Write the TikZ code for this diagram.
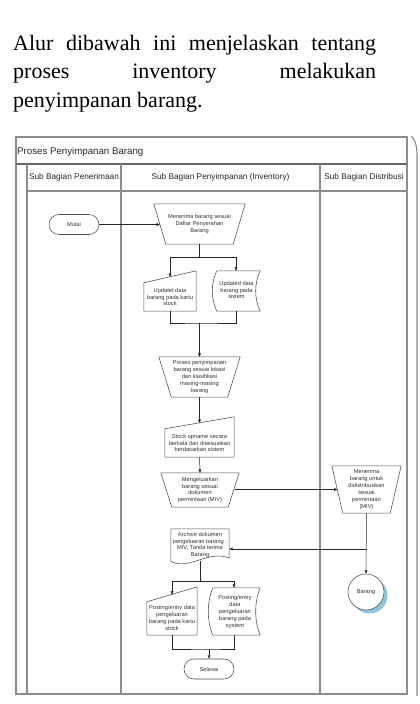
\documentclass[tikz,border=0pt]{standalone}
\usepackage{fontspec}
\setmainfont{Liberation Serif}
\newfontfamily\diagfont{Liberation Sans}
\usetikzlibrary{arrows.meta,calc}
\definecolor{framegray}{RGB}{140,140,140}
\definecolor{shadowblue}{RGB}{140,200,218}
\begin{document}
\begin{tikzpicture}[x=1pt,y=-1pt,
  frame/.style={draw=framegray,line width=1.1pt},
  shp/.style={draw=black!70,line width=0.55pt},
  conn/.style={draw=black!85,line width=0.5pt},
  arr/.style={conn,-{Triangle[length=3.4pt,width=2.8pt]}},
  txt/.style={font=\diagfont\fontsize{5.7}{6.9}\selectfont,text=black!80,align=center,inner sep=0pt},
  boxn/.style={txt,draw=none,minimum width=#1},
  hdr/.style={font=\diagfont\fontsize{8.3}{10}\selectfont,text=black!85,inner sep=0pt},
  para/.style={font=\fontsize{22}{28}\selectfont,anchor=base west,inner sep=0pt}]
\useasboundingbox (0,0) rectangle (420,704);
% paragraph
\node[para] (l1) at (13,50) {\makebox[363pt][s]{Alur dibawah ini menjelaskan tentang}};
\node[para] (l2) at (13,78.7) {\makebox[363pt][s]{proses inventory melakukan}};
\node[para] (l3) at (13,107.4) {penyimpanan barang.};
% frame
\draw[frame] (16,137) rectangle (407,694);
\draw[frame,draw=black!60] (16,164) -- (407,164);
\draw[frame] (27,164) -- (27,694);
\draw[frame] (121,164) -- (121,694);
\draw[frame] (320,164) -- (320,694);
\draw[frame] (27,191) -- (407,191);
\draw[frame,draw=black!45] (411,136) .. controls (415,139) and (417,145) .. (417,156) -- (417,696);
\node[font=\diagfont\fontsize{9.7}{11}\selectfont,text=black!85,anchor=base west,inner sep=0pt] (title) at (17,154) {Proses Penyimpanan Barang};
\node[hdr] (h1) at (74,177.5) {Sub Bagian Penerimaan};
\node[hdr] (h2) at (220.5,177.5) {Sub Bagian Penyimpanan (Inventory)};
\node[hdr] (h3) at (364,177.5) {Sub Bagian Distribusi};
% Mulai
\node[txt,shp,rounded corners=10pt,minimum width=50pt,minimum height=20pt] (mulai) at (74,224.5) {Mulai};
% T1
\node[boxn=91pt,minimum height=40pt] (t1) at (199.5,224) {Menerima barang sesuai\\Daftar Penyerahan\\Barang};
\draw[shp] (t1.north west) -- (t1.north east) -- ([xshift=-12pt]t1.south east) -- ([xshift=12pt]t1.south west) -- cycle;
% MI1
\node[boxn=52pt,minimum height=40pt] (mi1) at (170,291) {};
\draw[shp] ([yshift=-12pt]mi1.north west) -- (mi1.north east) -- (mi1.south east) -- (mi1.south west) -- cycle;
\node[txt] (mi1t) at (170,297) {Updatet data\\barang pada kartu\\stock};
% SD1
\node[boxn=48pt,minimum height=40pt] (sd1) at (236,291) {};
\draw[shp] ([xshift=5pt]sd1.north west) -- (sd1.north east)
  .. controls ([xshift=-6pt]$(sd1.north east)!0.3!(sd1.south east)$) and ([xshift=-6pt]$(sd1.north east)!0.7!(sd1.south east)$) .. (sd1.south east)
  -- ([xshift=5pt]sd1.south west)
  .. controls ([xshift=-1pt]$(sd1.south west)!0.3!(sd1.north west)$) and ([xshift=-1pt]$(sd1.south west)!0.7!(sd1.north west)$) .. ([xshift=5pt]sd1.north west) -- cycle;
\node[txt] (sd1t) at (236.5,290) {Updated data\\barang pada\\sistem};
% T2
\node[boxn=81pt,minimum height=40pt] (t2) at (199.5,377) {Proses penyimpanan\\barang sesuai lokasi\\dan klasifikasi\\masing-masing\\barang};
\draw[shp] (t2.north west) -- (t2.north east) -- ([xshift=-12.5pt]t2.south east) -- ([xshift=12.5pt]t2.south west) -- cycle;
% MI2
\node[boxn=69pt,minimum height=40pt] (mi2) at (199.5,437) {};
\draw[shp] ([yshift=-12pt]mi2.north west) -- (mi2.north east) -- (mi2.south east) -- (mi2.south west) -- cycle;
\node[txt] (mi2t) at (199.5,443) {Stock opname secara\\berkala dan disesuaikan\\berdasarkan sistem};
% T3
\node[boxn=78pt,minimum height=34pt] (t3) at (200,490) {Mengeluarkan\\barang sesuai\\dokumen\\permintaan (MIV)};
\draw[shp] (t3.north west) -- (t3.north east) -- ([xshift=-11pt]t3.south east) -- ([xshift=11pt]t3.south west) -- cycle;
% T4
\node[boxn=69pt,minimum height=47pt] (t4) at (366.5,489.5) {Menerima\\barang untuk\\didistribusikan\\sesuai\\permintaan\\(MIV)};
\draw[shp] (t4.north west) -- (t4.north east) -- ([xshift=-11pt]t4.south east) -- ([xshift=11pt]t4.south west) -- cycle;
% D1 document
\node[boxn=58pt,minimum height=32pt] (d1) at (200,545) {Archive dokumen\\pengeluaran barang :\\MIV, Tanda terima\\Barang};
\draw[shp] (d1.south west) -- (d1.north west) -- (d1.north east) -- ([yshift=3pt]d1.south east)
  .. controls +(-20,-9) and +(17,10) .. (d1.south west) -- cycle;
\coordinate (d1b) at (200,561);
% Barang circle
\fill[shadowblue] (369.5,595.5) circle (18pt);
\node[txt,shp,circle,fill=white,minimum size=36pt] (bar) at (366,592) {Barang};
% MI3
\node[boxn=50pt,minimum height=48pt] (mi3) at (172,611) {};
\draw[shp] ([yshift=-15pt]mi3.north west) -- (mi3.north east) -- (mi3.south east) -- (mi3.south west) -- cycle;
\node[txt] (mi3t) at (172,618) {Posting/entry data\\pengeluaran\\barang pada kartu\\stock};
% SD2
\node[boxn=52pt,minimum height=47pt] (sd2) at (234,611.5) {};
\draw[shp] ([xshift=5pt]sd2.north west) -- (sd2.north east)
  .. controls ([xshift=-6pt]$(sd2.north east)!0.3!(sd2.south east)$) and ([xshift=-6pt]$(sd2.north east)!0.7!(sd2.south east)$) .. (sd2.south east)
  -- ([xshift=5pt]sd2.south west)
  .. controls ([xshift=-1pt]$(sd2.south west)!0.3!(sd2.north west)$) and ([xshift=-1pt]$(sd2.south west)!0.7!(sd2.north west)$) .. ([xshift=5pt]sd2.north west) -- cycle;
\node[txt] (sd2t) at (235,612) {Posting/entry\\data\\pengeluaran\\barang pada\\system};
% Selesai
\node[txt,shp,rounded corners=10pt,minimum width=50pt,minimum height=20pt] (sel) at (209,669) {Selesai};
% connectors
\coordinate (t1in) at (160,224.5);
\draw[arr] (mulai.east) -- (t1in);
\coordinate (j1) at (199.5,257);
\coordinate (mi1in) at (170,277);
\draw[conn] (t1.south) -- (j1);
\draw[arr] (j1) -| (mi1in);
\draw[arr] (j1) -| (sd1.north);
\coordinate (j2) at (199.5,323);
\draw[conn] (mi1.south) |- (j2) -| (sd1.south);
\draw[arr] (j2) -- (t2.north);
\coordinate (mi2in) at (199.5,423);
\draw[arr] (t2.south) -- (mi2in);
\draw[arr] (mi2.south) -- (t3.north);
\coordinate (t3out) at (234.5,489.5);
\coordinate (t4in) at (337.5,489.5);
\draw[arr] (t3out) -- (t4in);
\draw[arr] (t4.south) -- (bar.north);
\coordinate (j3) at (366.5,549);
\draw[arr] (j3) -- (d1.east |- j3);
\coordinate (j4) at (200,581);
\coordinate (mi3in) at (172,594.5);
\draw[conn] (d1b) -- (j4);
\draw[arr] (j4) -| (mi3in);
\draw[arr] (j4) -| (sd2.north);
\coordinate (j5) at (209,649);
\draw[conn] (mi3.south) |- (j5) -| (sd2.south);
\draw[arr] (j5) -- (sel.north);
\end{tikzpicture}
\end{document}
